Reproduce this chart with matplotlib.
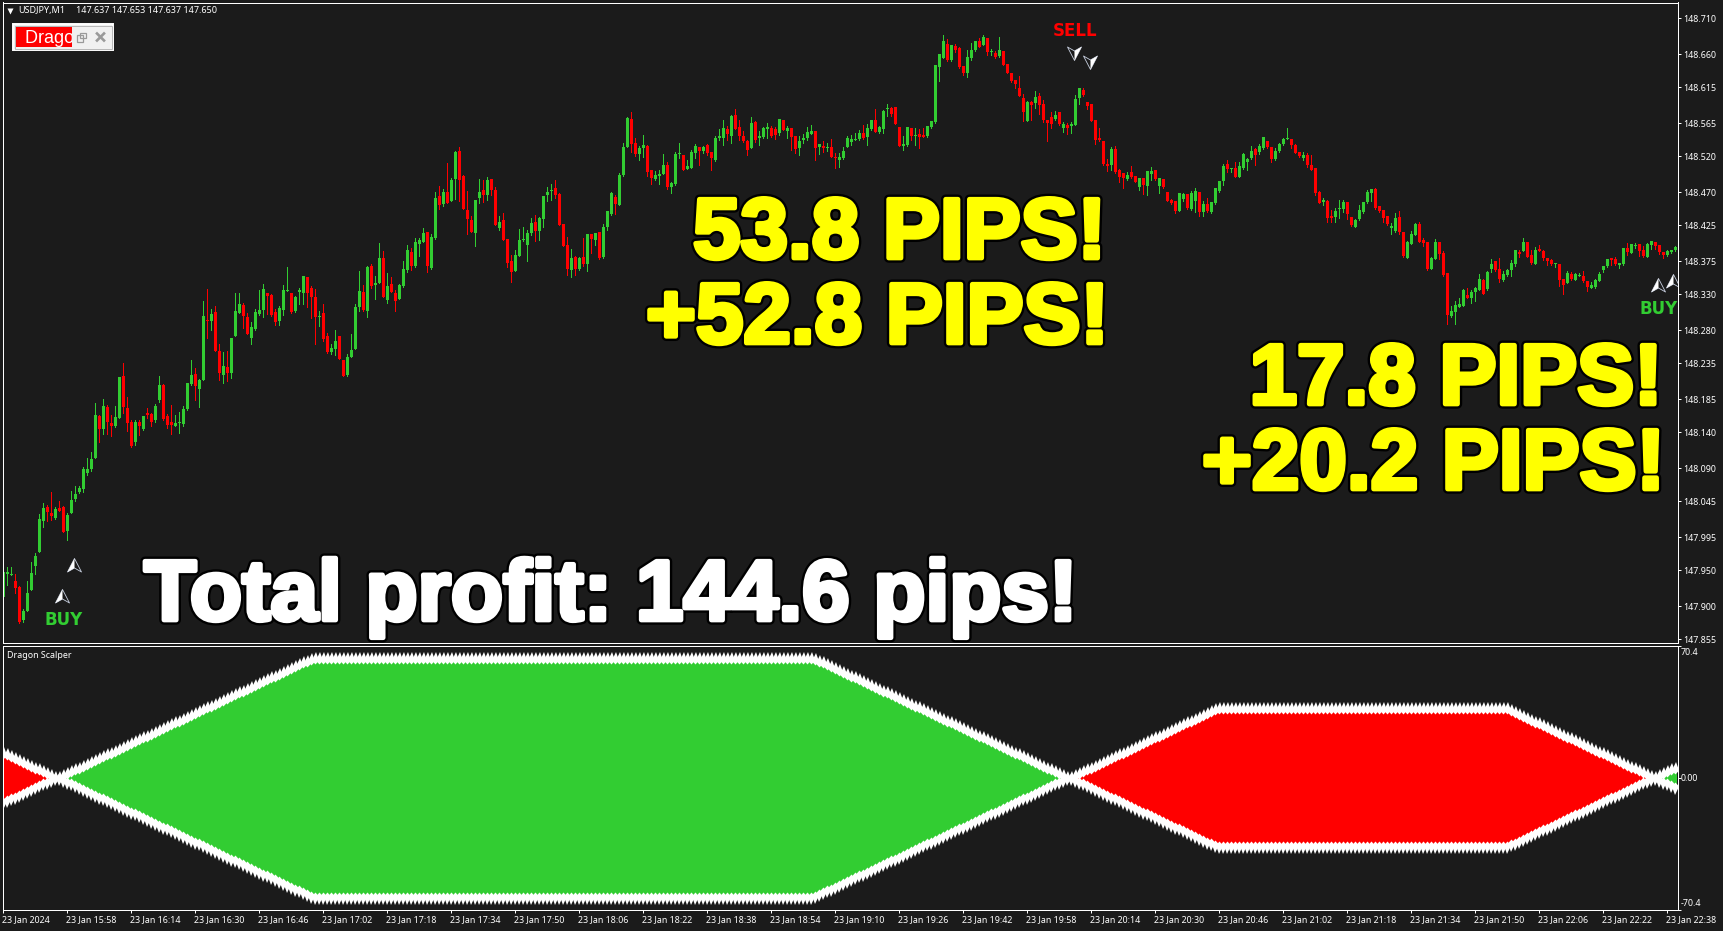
import numpy as np
import matplotlib
matplotlib.use('Agg')
import matplotlib.pyplot as plt
import matplotlib.patheffects as pe
from matplotlib.path import Path
from matplotlib.patches import Rectangle
from matplotlib.transforms import ScaledTranslation

# candle values, in points above 147.000 (1 point = 0.001)
opens = [
913,945,943,935,927,881,893,923,955,975,
1017,1037,1028,1022,1035,1037,1004,1028,1048,1058,
1061,1084,1089,1105,1162,1144,1175,1152,1148,1160,
1217,1173,1154,1126,1154,1144,1166,1165,1156,1184,
1205,1162,1154,1149,1152,1151,1172,1206,1220,1199,
1212,1295,1293,1305,1252,1219,1230,1221,1272,1304,
1315,1298,1269,1282,1303,1308,1331,1329,1305,1293,
1308,1334,1332,1307,1333,1331,1354,1338,1326,1298,
1304,1272,1250,1255,1273,1239,1218,1243,1254,1312,
1333,1307,1369,1343,1345,1380,1322,1344,1332,1323,
1341,1363,1388,1369,1399,1402,1416,1366,1407,1465,
1454,1471,1458,1489,1527,1493,1446,1432,1414,1462,
1473,1466,1489,1473,1421,1432,1406,1376,1362,1382,
1405,1398,1414,1429,1417,1433,1466,1472,1476,1468,
1427,1398,1363,1381,1365,1381,1371,1413,1405,1416,
1381,1422,1440,1464,1453,1494,1533,1571,1538,1523,
1531,1534,1501,1489,1493,1495,1508,1477,1482,1523,
1522,1502,1504,1524,1533,1527,1535,1526,1515,1545,
1545,1557,1548,1577,1560,1548,1541,1531,1567,1545,
1546,1557,1559,1557,1552,1570,1555,1559,1548,1531,
1542,1545,1550,1555,1533,1534,1531,1533,1519,1515,
1517,1533,1539,1542,1544,1552,1546,1557,1570,1553,
1557,1585,1586,1588,1560,1534,1535,1559,1548,1550,
1549,1548,1560,1567,1643,1655,1674,1652,1672,1669,
1644,1634,1655,1666,1679,1673,1683,1663,1662,1658,
1665,1647,1634,1625,1614,1600,1568,1595,1593,1603,
1592,1570,1574,1571,1581,1559,1563,1561,1563,1600,
1611,1595,1592,1570,1545,1541,1509,1508,1530,1501,
1497,1489,1498,1493,1477,1490,1479,1495,1501,1479,
1489,1471,1460,1458,1444,1461,1468,1447,1458,1471,
1443,1454,1443,1455,1472,1486,1509,1502,1504,1491,
1504,1512,1517,1530,1526,1531,1541,1533,1516,1527,
1537,1544,1544,1535,1526,1517,1522,1508,1504,1471,
1457,1458,1438,1436,1447,1447,1457,1436,1422,1433,
1443,1457,1469,1475,1451,1446,1438,1421,1417,1436,
1416,1380,1399,1411,1427,1405,1402,1365,1378,1402,
1387,1359,1300,1305,1312,1314,1329,1325,1333,1336,
1349,1337,1365,1376,1365,1349,1356,1363,1371,1388,
1389,1402,1384,1371,1392,1389,1380,1377,1371,1371,
1351,1345,1358,1349,1355,1355,1348,1338,1340,1348,
1363,1369,1380,1378,1370,1371,1394,1387,1396,1399,
1391,1381,1398,1402,1398,1388,1384,1388,1391]
highs = [
955,954,954,944,928,897,935,961,973,1027,
1043,1040,1057,1037,1045,1038,1028,1059,1066,1066,
1092,1105,1112,1180,1164,1186,1177,1164,1176,1216,
1235,1188,1156,1157,1156,1162,1173,1167,1179,1217,
1206,1165,1177,1164,1168,1176,1207,1239,1228,1213,
1321,1337,1310,1314,1262,1250,1252,1270,1331,1331,
1318,1304,1292,1310,1336,1344,1331,1330,1310,1314,
1343,1368,1332,1327,1339,1355,1354,1341,1337,1307,
1316,1277,1262,1280,1273,1239,1247,1275,1317,1362,
1343,1369,1372,1355,1401,1389,1359,1354,1336,1344,
1375,1398,1394,1407,1407,1421,1416,1413,1471,1479,
1475,1511,1490,1527,1533,1494,1472,1438,1460,1489,
1487,1491,1489,1477,1438,1442,1406,1384,1391,1420,
1422,1418,1435,1439,1436,1465,1477,1482,1487,1469,
1427,1409,1392,1382,1381,1407,1413,1413,1414,1416,
1427,1444,1471,1466,1497,1538,1574,1581,1545,1534,
1549,1535,1501,1500,1501,1523,1512,1484,1526,1538,
1522,1515,1528,1537,1533,1534,1537,1526,1548,1557,
1570,1562,1577,1585,1570,1555,1542,1574,1568,1555,
1560,1566,1561,1560,1571,1570,1561,1559,1548,1548,
1550,1560,1563,1555,1537,1541,1538,1543,1524,1524,
1533,1548,1549,1552,1556,1563,1564,1570,1585,1561,
1584,1592,1588,1588,1560,1548,1560,1559,1559,1557,
1559,1561,1568,1645,1661,1687,1681,1673,1674,1670,
1644,1666,1676,1679,1683,1687,1683,1668,1665,1684,
1665,1647,1634,1625,1630,1606,1596,1596,1610,1607,
1597,1570,1581,1582,1581,1567,1566,1567,1604,1614,
1614,1595,1592,1570,1559,1541,1516,1533,1534,1502,
1497,1498,1506,1493,1490,1490,1500,1505,1501,1490,
1489,1471,1461,1458,1469,1469,1468,1472,1476,1471,
1458,1462,1457,1476,1486,1509,1515,1504,1512,1512,
1524,1517,1534,1531,1537,1546,1541,1533,1531,1538,
1545,1559,1544,1537,1526,1526,1524,1522,1504,1472,
1462,1460,1446,1449,1460,1460,1457,1436,1433,1453,
1457,1473,1475,1476,1451,1446,1438,1428,1442,1444,
1416,1403,1417,1428,1429,1407,1402,1381,1406,1402,
1389,1359,1314,1321,1325,1337,1338,1336,1340,1358,
1351,1362,1378,1376,1380,1362,1365,1377,1391,1391,
1407,1402,1391,1395,1398,1391,1380,1378,1373,1371,
1351,1362,1360,1359,1359,1362,1348,1347,1351,1360,
1369,1378,1380,1381,1373,1394,1400,1399,1400,1399,
1396,1400,1403,1402,1398,1388,1391,1391,1396]
lows = [
913,930,943,918,877,878,893,923,945,975,
1010,1017,1019,1021,1032,1002,991,1028,1045,1056,
1057,1081,1087,1105,1127,1138,1138,1134,1147,1159,
1166,1141,1120,1122,1136,1143,1160,1149,1154,1182,
1157,1145,1137,1148,1139,1148,1170,1205,1184,1175,
1212,1270,1281,1252,1212,1207,1210,1214,1272,1304,
1283,1275,1262,1280,1301,1298,1303,1300,1287,1287,
1301,1334,1304,1306,1316,1316,1312,1297,1261,1286,
1266,1249,1248,1246,1241,1217,1217,1243,1254,1307,
1307,1299,1338,1323,1345,1326,1318,1333,1307,1323,
1340,1360,1363,1368,1382,1402,1360,1365,1406,1447,
1451,1455,1458,1461,1458,1447,1413,1416,1396,1455,
1457,1460,1466,1425,1418,1405,1367,1347,1362,1382,
1403,1376,1411,1403,1405,1422,1458,1460,1463,1425,
1396,1356,1354,1356,1363,1369,1362,1387,1398,1378,
1380,1418,1439,1440,1453,1493,1533,1526,1520,1515,
1519,1493,1482,1487,1482,1495,1475,1469,1480,1517,
1501,1502,1504,1517,1508,1524,1522,1501,1513,1542,
1535,1542,1538,1557,1542,1539,1522,1531,1539,1535,
1545,1545,1546,1544,1549,1556,1545,1528,1524,1522,
1538,1542,1550,1515,1523,1526,1527,1519,1504,1505,
1516,1533,1535,1542,1542,1544,1535,1556,1553,1552,
1552,1575,1575,1564,1534,1528,1534,1542,1535,1531,
1546,1546,1559,1566,1623,1655,1651,1651,1663,1641,
1632,1629,1652,1665,1670,1673,1659,1659,1655,1657,
1645,1634,1622,1614,1603,1568,1568,1570,1586,1578,
1567,1541,1559,1570,1563,1553,1550,1552,1563,1592,
1603,1585,1568,1537,1541,1508,1500,1501,1497,1484,
1476,1487,1490,1484,1473,1468,1466,1487,1487,1469,
1476,1458,1454,1442,1444,1458,1447,1446,1443,1438,
1438,1443,1442,1454,1471,1480,1498,1498,1491,1491,
1502,1501,1516,1508,1523,1530,1531,1512,1515,1526,
1535,1544,1531,1524,1519,1515,1505,1501,1466,1455,
1453,1429,1429,1429,1435,1443,1433,1424,1422,1432,
1442,1455,1458,1447,1443,1429,1425,1413,1416,1413,
1381,1380,1399,1411,1402,1396,1363,1365,1378,1378,
1355,1289,1298,1289,1312,1314,1325,1318,1321,1336,
1330,1336,1360,1362,1347,1348,1355,1355,1369,1381,
1389,1381,1371,1371,1389,1377,1370,1370,1367,1341,
1330,1345,1349,1349,1355,1347,1334,1338,1338,1348,
1360,1367,1370,1370,1366,1370,1384,1387,1394,1382,
1381,1381,1392,1392,1385,1380,1382,1387,1389]
closes = [
948,947,945,926,878,894,919,946,970,1020,
1035,1030,1025,1034,1032,1002,1026,1047,1055,1063,
1089,1089,1103,1164,1144,1176,1154,1149,1161,1216,
1174,1153,1121,1154,1148,1162,1163,1154,1176,1205,
1158,1150,1150,1152,1154,1172,1207,1219,1204,1212,
1300,1293,1303,1252,1221,1231,1222,1270,1307,1316,
1300,1275,1285,1306,1308,1337,1327,1301,1292,1311,
1336,1336,1306,1326,1336,1355,1332,1326,1298,1300,
1268,1251,1256,1265,1241,1217,1243,1253,1312,1334,
1308,1368,1341,1345,1380,1326,1341,1333,1321,1343,
1365,1391,1369,1402,1405,1414,1369,1409,1462,1453,
1471,1455,1487,1526,1487,1447,1433,1416,1460,1471,
1466,1487,1473,1425,1429,1405,1373,1360,1384,1405,
1406,1414,1428,1417,1435,1465,1471,1473,1466,1425,
1396,1365,1380,1365,1380,1371,1413,1406,1414,1380,
1422,1444,1469,1454,1494,1533,1573,1537,1523,1531,
1535,1498,1490,1494,1495,1508,1477,1483,1523,1524,
1501,1506,1526,1534,1527,1533,1524,1517,1545,1548,
1559,1550,1575,1557,1548,1541,1528,1566,1542,1548,
1559,1560,1548,1549,1571,1556,1559,1546,1530,1541,
1545,1553,1555,1531,1537,1531,1533,1519,1517,1519,
1527,1545,1544,1544,1552,1545,1559,1570,1553,1560,
1582,1586,1578,1564,1534,1537,1560,1548,1549,1546,
1546,1561,1568,1645,1661,1679,1652,1673,1666,1643,
1634,1657,1666,1679,1670,1684,1663,1665,1657,1666,
1645,1634,1623,1619,1603,1581,1595,1590,1601,1590,
1570,1566,1564,1577,1564,1564,1559,1564,1599,1614,
1604,1589,1568,1542,1542,1509,1506,1530,1498,1491,
1490,1494,1491,1484,1490,1480,1500,1500,1489,1490,
1477,1458,1455,1444,1469,1468,1449,1469,1472,1443,
1454,1444,1457,1476,1486,1506,1502,1504,1491,1506,
1523,1516,1527,1522,1534,1546,1533,1516,1527,1537,
1544,1545,1535,1524,1520,1522,1508,1501,1469,1455,
1460,1435,1435,1444,1449,1457,1440,1425,1432,1446,
1457,1471,1475,1449,1444,1435,1427,1424,1435,1416,
1382,1402,1413,1427,1402,1400,1365,1380,1402,1385,
1356,1301,1307,1315,1316,1336,1325,1333,1338,1351,
1330,1360,1371,1363,1351,1358,1363,1373,1391,1385,
1402,1381,1373,1391,1389,1380,1376,1371,1373,1349,
1343,1359,1351,1358,1356,1348,1340,1343,1349,1358,
1369,1378,1377,1371,1373,1394,1388,1399,1398,1389,
1382,1399,1403,1396,1388,1384,1389,1391,1395]

# Dragon Scalper value per bar, negative = red, positive = green
scalper = [
-13.5,-12.5,-11.5,-10.5,-9.5,-8.5,-7.5,-6.5,-5.5,-4.5,-3.5,-2.5,-1.5,-0.5,
0.5,1.5,2.5,3.5,4.5,5.5,6.5,7.5,8.5,9.5,10.5,11.5,12.5,13.5,14.5,15.5,
16.5,17.5,18.5,19.5,20.5,21.5,22.5,23.5,24.5,25.5,26.5,27.5,28.5,29.5,30.5,31.5,
32.5,33.5,34.5,35.5,36.5,37.5,38.5,39.5,40.5,41.5,42.5,43.5,44.5,45.5,46.5,47.5,
48.5,49.5,50.5,51.5,52.5,53.5,54.5,55.5,56.5,57.5,58.5,59.5,60.5,61.5,62.5,63.5,
64,64,64,64,64,64,64,64,64,64,64,64,64,64,64,64,64,64,64,64,64,64,64,64,64,
64,64,64,64,64,64,64,64,64,64,64,64,64,64,64,64,64,64,64,64,64,64,64,64,64,
64,64,64,64,64,64,64,64,64,64,64,64,64,64,64,64,64,64,64,64,64,64,64,64,64,
64,64,64,64,64,64,64,64,64,64,64,64,64,64,64,64,64,64,64,64,64,64,64,64,64,
64,64,64,64,64,64,64,64,64,64,64,64,64,64,64,64,64,64,64,64,64,64,64,64,64,
63.5,62.5,61.5,60.5,59.5,58.5,57.5,56.5,55.5,54.5,53.5,52.5,51.5,50.5,49.5,48.5,
47.5,46.5,45.5,44.5,43.5,42.5,41.5,40.5,39.5,38.5,37.5,36.5,35.5,34.5,33.5,32.5,
31.5,30.5,29.5,28.5,27.5,26.5,25.5,24.5,23.5,22.5,21.5,20.5,19.5,18.5,17.5,16.5,
15.5,14.5,13.5,12.5,11.5,10.5,9.5,8.5,7.5,6.5,5.5,4.5,3.5,2.5,1.5,0.5,
-0.5,-1.5,-2.5,-3.5,-4.5,-5.5,-6.5,-7.5,-8.5,-9.5,-10.5,-11.5,-12.5,-13.5,-14.5,-15.5,
-16.5,-17.5,-18.5,-19.5,-20.5,-21.5,-22.5,-23.5,-24.5,-25.5,-26.5,-27.5,-28.5,-29.5,-30.5,-31.5,
-32.5,-33.5,-34.5,-35.5,-36.5,
-37,-37,-37,-37,-37,-37,-37,-37,-37,-37,-37,-37,-37,-37,-37,-37,-37,-37,-37,-37,
-37,-37,-37,-37,-37,-37,-37,-37,-37,-37,-37,-37,-37,-37,-37,-37,-37,-37,-37,-37,
-37,-37,-37,-37,-37,-37,-37,-37,-37,-37,-37,-37,-37,-37,-37,-37,-37,-37,-37,-37,
-37,-37,-37,-37,-37,-37,-37,-37,-37,-37,-37,-37,-37,
-36,-35,-34,-33,-32,-31,-30,-29,-28,-27,-26,-25,-24,-23,-22,-21,-20,-19,
-18,-17,-16,-15,-14,-13,-12,-11,-10,-9,-8,-7,-6,-5,-4,-3,-2,-1,
0.5,1.5,2.5,3.5,4.5,5.5]

price_ticks = [148.710,148.660,148.615,148.565,148.520,148.470,148.425,148.375,148.330,148.280,
               148.235,148.185,148.140,148.090,148.045,147.995,147.950,147.900,147.855]
time_labels = ['23 Jan 2024','23 Jan 15:58','23 Jan 16:14','23 Jan 16:30','23 Jan 16:46','23 Jan 17:02',
               '23 Jan 17:18','23 Jan 17:34','23 Jan 17:50','23 Jan 18:06','23 Jan 18:22','23 Jan 18:38',
               '23 Jan 18:54','23 Jan 19:10','23 Jan 19:26','23 Jan 19:42','23 Jan 19:58','23 Jan 20:14',
               '23 Jan 20:30','23 Jan 20:46','23 Jan 21:02','23 Jan 21:18','23 Jan 21:34','23 Jan 21:50',
               '23 Jan 22:06','23 Jan 22:22','23 Jan 22:38']
buy_bars = [17.7,14.7,413.7,417.5]
buy_prices = [147.957,147.914,148.343,148.348]
sell_bars = [267.7,271.7]
sell_prices = [148.662,148.650]

bg = '#1b1b1b'
green = '#32cd32'
red = '#ff0000'
W = 1723.
H = 931.
plt.rcParams['font.family'] = ['Noto Sans', 'DejaVu Sans']
plt.rcParams['font.size'] = 6.4

def pane(left, top, right, bottom):
    a = fig.add_axes([left/W, 1-bottom/H, (right-left)/W, (bottom-top)/H], facecolor=bg)
    for s in a.spines.values():
        s.set_color('white')
        s.set_linewidth(0.72)
    return a

fig = plt.figure(figsize=(W/100, H/100), dpi=100, facecolor=bg)

# price pane
ax = pane(2.67, 2.5, 1677.7, 643)
x = np.arange(len(closes))
o = 147 + np.array(opens)/1000.
hi = 147 + np.array(highs)/1000.
lo = 147 + np.array(lows)/1000.
c = 147 + np.array(closes)/1000.
colors = [green if c[i] >= o[i] else red for i in x]
ax.vlines(x, lo, hi, colors=colors, linewidth=0.72, antialiased=False)
ax.bar(x, np.abs(c-o), bottom=np.minimum(o, c), width=0.75, color=colors, linewidth=0, antialiased=False)
ax.set_xlim(-0.165, 418.6)
ax.set_ylim(147.8496, 148.7316)
ax.set_xticks([])
ax.yaxis.tick_right()
ax.set_yticks(price_ticks)
ax.set_yticklabels(['%.3f' % p for p in price_ticks])
ax.tick_params(axis='y', colors='white', length=2.2, width=0.72, pad=1.8, labelsize=6.4)

# arrows, left half solid, right half only an outline
full = Path([(0,7),(7,-6.5),(0,-2.5),(-7,-6.5),(0,7)], closed=True)
half = Path([(0,7),(0,-2.5),(-7,-6.5),(0,7)], closed=True)
ax.plot(buy_bars, buy_prices, ls='', marker=full, ms=10.1, mfc=bg, mec='#c8d0e0', mew=0.6)
ax.plot(buy_bars, buy_prices, ls='', marker=half, ms=10.1, mfc='white', mec='none')
flip_full = Path([(0,-7),(-7,6.5),(0,2.5),(7,6.5),(0,-7)], closed=True)
flip_half = Path([(0,-7),(0,2.5),(7,6.5),(0,-7)], closed=True)
ax.plot(sell_bars, sell_prices, ls='', marker=flip_full, ms=10.1, mfc=bg, mec='#c8d0e0', mew=0.6)
ax.plot(sell_bars, sell_prices, ls='', marker=flip_half, ms=10.1, mfc='white', mec='none')

sig = dict(fontsize=12, fontweight='bold', family='DejaVu Sans', va='center')
ax.text(15, 147.8815, 'BUY', color=green, ha='center', **sig)
ax.text(268, 148.693, 'SELL', color=red, ha='center', **sig)
ax.text(418.6, 148.3095, 'BUY', color=green, ha='right', clip_on=True, **sig)

# indicator pane
ax2 = pane(2.67, 645.7, 1677.7, 910)
v = np.array(scalper, dtype=float)
mag = np.abs(v)
ax2.bar(x, 2*mag, bottom=-mag, width=1.0, color=[green if k > 0 else red for k in v], linewidth=0, antialiased=False)
up_tooth = Path([(-3.6,-2),(0.5,6.5),(3.6,-2),(0,-6),(-3.6,-2)], closed=True)
dn_tooth = Path([(-3.6,2),(-0.5,-6.5),(3.6,2),(0,6),(-3.6,2)], closed=True)
ax2.scatter(x, mag, marker=up_tooth, s=87.6, c='white', linewidths=0)
ax2.scatter(x, -mag, marker=dn_tooth, s=87.6, c='white', linewidths=0)
ax2.set_xlim(-0.165, 418.6)
ax2.set_ylim(-70.4, 70.4)
ax2.yaxis.tick_right()
ax2.set_yticks([70.4, 0, -70.4])
ax2.set_yticklabels(['70.4', '0.00', '-70.4'])
ax2.tick_params(axis='y', colors='white', length=2, width=0.72, pad=0.2, labelsize=6.4)
labs = ax2.get_yticklabels()
labs[0].set_va('top')
labs[0].set_transform(labs[0].get_transform() + ScaledTranslation(0, -2.0/100, fig.dpi_scale_trans))
labs[2].set_va('bottom')
labs[2].set_transform(labs[2].get_transform() + ScaledTranslation(0, 1.5/100, fig.dpi_scale_trans))
ax2.set_xticks(np.arange(len(time_labels))*16)
ax2.set_xticklabels(time_labels)
ax2.tick_params(axis='x', colors='white', length=2.2, width=0.72, pad=1.5, labelsize=6.4)
for t in ax2.get_xticklabels():
    t.set_ha('left')
    t.set_transform(t.get_transform() + ScaledTranslation(-1.5/100, 0, fig.dpi_scale_trans))

# overlay in image pixels for the captions and the little button
ov = fig.add_axes([0, 0, 1, 1], facecolor='none')
ov.set_xlim(0, W)
ov.set_ylim(H, 0)
ov.axis('off')

ov.text(18, 10.5, 'USDJPY,M1', color='white', fontsize=6.5, va='center')
ov.text(76.5, 10.5, '147.637 147.653 147.637 147.650', color='white', fontsize=6.5, va='center')
ov.plot([9.5], [10.7], ls='', marker='v', ms=4.5, mfc='white', mec='none')
ov.text(7, 655, 'Dragon Scalper', color='white', fontsize=6.4, va='center')

ov.add_patch(Rectangle((13, 24), 100, 26, fc='#f0f0f0', ec='white', lw=1.4))
ov.add_patch(Rectangle((14.5, 25.5), 97, 23, fc='none', ec='#b8b8b8', lw=0.72))
rr = Rectangle((16, 27), 56, 20, fc=red, ec='none')
ov.add_patch(rr)
dt = ov.text(25, 43.3, 'Dragon Scalper', color='white', fontsize=13, family='Liberation Sans', va='baseline', clip_on=True)
dt.set_clip_path(rr)
ov.add_patch(Rectangle((76.5, 35), 6.5, 6.5, fc='#f0f0f0', ec='#999999', lw=0.9))
ov.add_patch(Rectangle((80, 32.5), 5.5, 5.5, fc='none', ec='#999999', lw=0.9))
ov.plot([97, 104], [33.5, 40.5], color='#999999', lw=1.9)
ov.plot([97, 104], [40.5, 33.5], color='#999999', lw=1.9)

yellow_fx = [pe.withStroke(linewidth=6.8, foreground='black'), pe.withStroke(linewidth=3.4, foreground='#ffff00')]
white_fx = [pe.withStroke(linewidth=6.8, foreground='black'), pe.withStroke(linewidth=3.4, foreground='white')]
big = dict(family='Liberation Sans', fontweight='bold', fontsize=61.5, va='baseline')
ov.text(1106, 258, '53.8 PIPS!', color='#ffff00', ha='right', path_effects=yellow_fx, **big)
ov.text(1109, 343, '+52.8 PIPS!', color='#ffff00', ha='right', path_effects=yellow_fx, **big)
ov.text(1662.5, 404, '17.8 PIPS!', color='#ffff00', ha='right', path_effects=yellow_fx, **big)
ov.text(1665, 489, '+20.2 PIPS!', color='#ffff00', ha='right', path_effects=yellow_fx, **big)
ov.text(144, 620, 'Total profit: 144.6 pips!', color='white', ha='left', path_effects=white_fx, **big)

fig.savefig('out.png', dpi=100, facecolor=bg)
